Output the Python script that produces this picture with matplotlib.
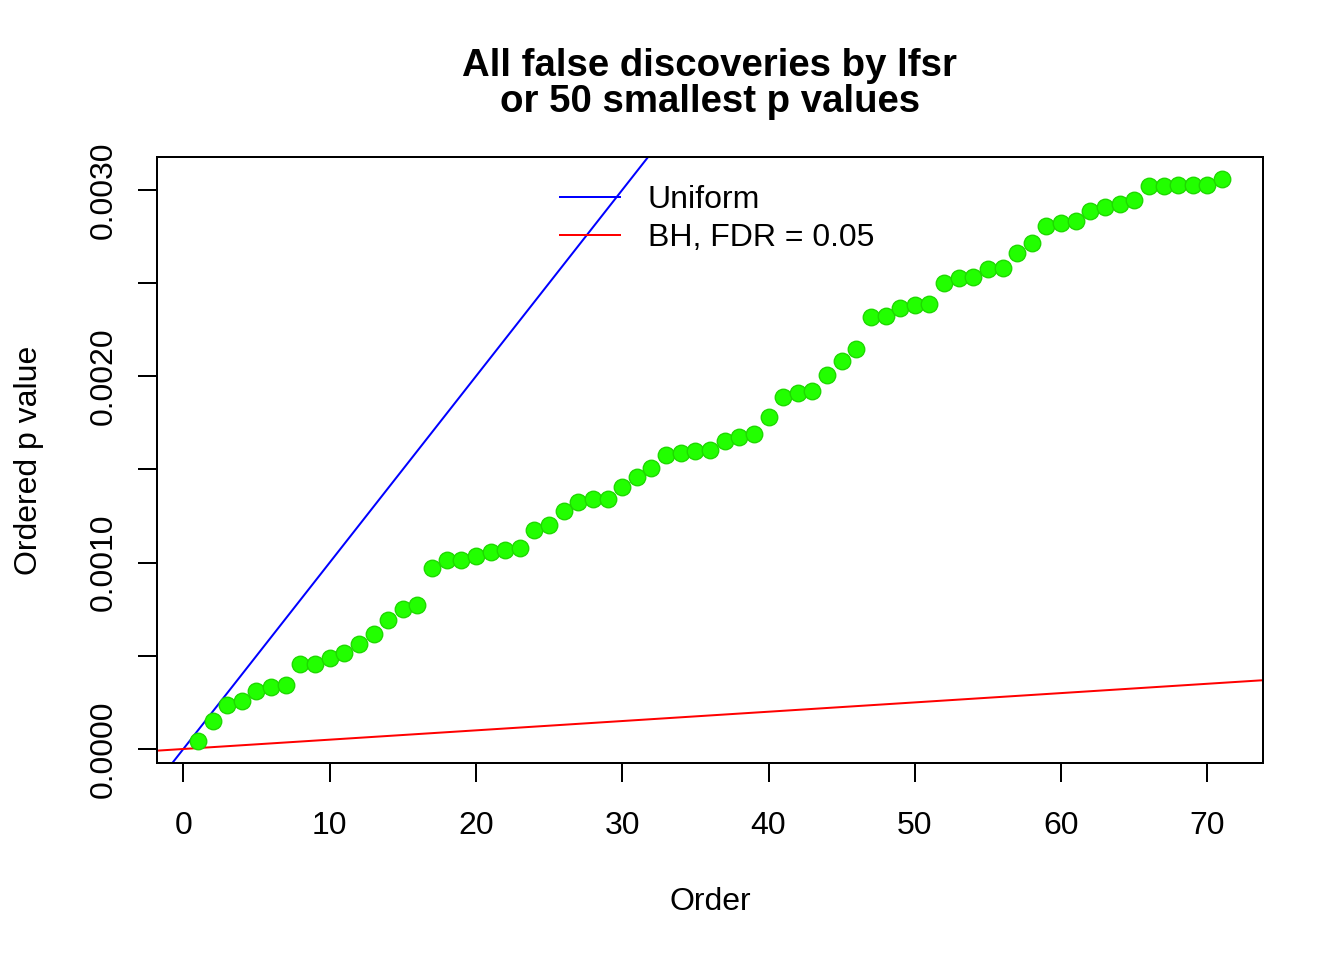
import matplotlib
matplotlib.use("Agg")
import matplotlib.pyplot as plt
from matplotlib.ticker import MultipleLocator

N_TESTS = 10000
FDR = 0.05

order = list(range(1, 72))
pvals = [
    0.000043, 0.000150, 0.000236, 0.000258, 0.000311, 0.000334, 0.000346,
    0.000458, 0.000458, 0.000490, 0.000517, 0.000564, 0.000617, 0.000692,
    0.000749, 0.000773, 0.000970, 0.001012, 0.001016, 0.001036, 0.001056,
    0.001070, 0.001076, 0.001175, 0.001204, 0.001276, 0.001324, 0.001340,
    0.001342, 0.001405, 0.001460, 0.001509, 0.001575, 0.001588, 0.001597,
    0.001606, 0.001654, 0.001674, 0.001692, 0.001781, 0.001888, 0.001910,
    0.001920, 0.002008, 0.002083, 0.002146, 0.002318, 0.002322, 0.002366,
    0.002382, 0.002386, 0.002500, 0.002528, 0.002535, 0.002576, 0.002580,
    0.002663, 0.002717, 0.002806, 0.002820, 0.002836, 0.002888, 0.002908,
    0.002927, 0.002946, 0.003019, 0.003022, 0.003024, 0.003024, 0.003027,
    0.003057,
]

plt.rcParams["font.family"] = ["Liberation Sans", "DejaVu Sans"]
plt.rcParams["font.size"] = 12

fig = plt.figure(figsize=(7, 5), dpi=192)
ax = fig.add_axes([157 / 1344, 1 - 763 / 960, 1106 / 1344, 606 / 960])

ax.plot(order, pvals, "o", color="#22ff00", markeredgecolor="#1ed800",
        markeredgewidth=0.5, markersize=6.2, zorder=3, label="_nolegend_")
ax.axline((0, 0), slope=1 / N_TESTS, color="blue", lw=0.75, label="Uniform")
ax.axline((0, 0), slope=FDR / N_TESTS, color="red", lw=0.75,
          label="BH, FDR = 0.05")

ax.set_xlim(-1.8, 73.8)
ax.set_ylim(-0.0000752, 0.0031768)
ax.xaxis.set_major_locator(MultipleLocator(10))
ax.set_yticks([0, 0.0005, 0.0010, 0.0015, 0.0020, 0.0025, 0.0030])
ax.set_yticklabels(["0.0000", "", "0.0010", "", "0.0020", "", "0.0030"],
                   rotation=90, va="center")
ax.tick_params(direction="out", length=7.2, width=0.75, labelsize=12)
ax.tick_params(axis="x", pad=10.7)
ax.tick_params(axis="y", pad=7)
for s in ax.spines.values():
    s.set_linewidth(0.75)

ax.set_xlabel("Order", fontsize=12, labelpad=17.5)
ax.set_ylabel("Ordered p value", fontsize=12, labelpad=16.8)
ax.set_title("All false discoveries by lfsr\nor 50 smallest p values",
             fontsize=14.4, fontweight="bold", pad=17, linespacing=1.0)

ax.legend(loc="upper left", bbox_to_anchor=(0.364, 0.9535), frameon=False,
          handlelength=1.9, handletextpad=0.85, labelspacing=0.25,
          borderpad=0, borderaxespad=0, fontsize=12)

fig.savefig("out.png", dpi=192)
